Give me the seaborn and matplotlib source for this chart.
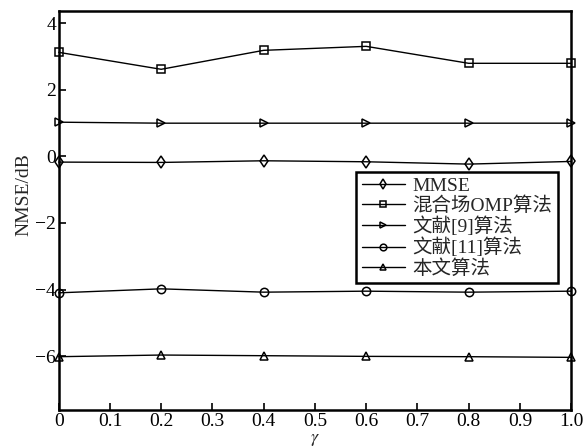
import matplotlib
matplotlib.use("Agg")
import matplotlib.pyplot as plt
import seaborn as sns
import pandas as pd

# gamma values and NMSE (dB)
gamma = [0.0, 0.2, 0.4, 0.6, 0.8, 1.0]
mmse = [-0.17, -0.18, -0.13, -0.16, -0.23, -0.15]
omp_mixed = [3.13, 2.62, 3.19, 3.31, 2.80, 2.80]
ref9 = [1.03, 1.00, 1.00, 1.00, 1.00, 1.00]
ref11 = [-4.10, -3.98, -4.08, -4.05, -4.08, -4.05]
proposed = [-6.02, -5.97, -5.99, -6.01, -6.02, -6.04]

series_names = ["MMSE", "混合场OMP算法", "文献[9]算法", "文献[11]算法", "本文算法"]
series_values = [mmse, omp_mixed, ref9, ref11, proposed]
series_markers = ["d", "s", ">", "o", "^"]

x_ticks = [0.0, 0.1, 0.2, 0.3, 0.4, 0.5, 0.6, 0.7, 0.8, 0.9, 1.0]
x_tick_labels = ["0", "0.1", "0.2", "0.3", "0.4", "0.5", "0.6", "0.7", "0.8", "0.9", "1.0"]
y_ticks = [4, 2, 0, -2, -4, -6]
y_tick_labels = ["4", "2", "0", "\u22122", "\u22124", "\u22126"]

sns.set_style("ticks")
plt.rcParams["font.family"] = ["Liberation Serif", "Noto Sans CJK SC"]
plt.rcParams["mathtext.fontset"] = "stix"

df = pd.concat(
    [pd.DataFrame({"gamma": gamma, "nmse": vals, "method": name})
     for name, vals in zip(series_names, series_values)],
    ignore_index=True,
)

fig, ax = plt.subplots(figsize=(5.87, 4.48), dpi=100)
fig.subplots_adjust(left=0.1, right=0.973, top=0.976, bottom=0.085)

for name, marker in zip(series_names, series_markers):
    sub = df[df["method"] == name]
    sns.lineplot(data=sub, x="gamma", y="nmse", ax=ax, color="black", linewidth=1.0,
                 marker=marker, markersize=6, markerfacecolor="none",
                 markeredgecolor="black", markeredgewidth=1.1, label=name,
                 clip_on=False, zorder=3)

ax.set_xlim(0, 1.0)
ax.set_ylim(-7.62, 4.38)
ax.set_xticks(x_ticks)
ax.set_xticklabels(x_tick_labels)
ax.set_yticks(y_ticks)
ax.set_yticklabels(y_tick_labels)
ax.tick_params(direction="in", length=5, width=1.2, labelsize=14, pad=2, colors="black")
for side in ax.spines.values():
    side.set_linewidth(1.8)
    side.set_color("black")

ax.set_xlabel("$\\gamma$", fontsize=13, labelpad=1)
ax.set_ylabel("NMSE/dB", fontsize=14)
ax.yaxis.set_label_coords(-0.052, 0.54)

leg = ax.legend(loc="lower right", bbox_to_anchor=(0.975, 0.317), fontsize=14,
                frameon=True, fancybox=False, edgecolor="black", framealpha=1,
                handlelength=2.2, handletextpad=0.4, borderpad=0.3,
                labelspacing=0.08, markerscale=0.8, borderaxespad=0)
leg.get_frame().set_linewidth(1.8)

plt.savefig("out.png", dpi=100)
plt.close()
